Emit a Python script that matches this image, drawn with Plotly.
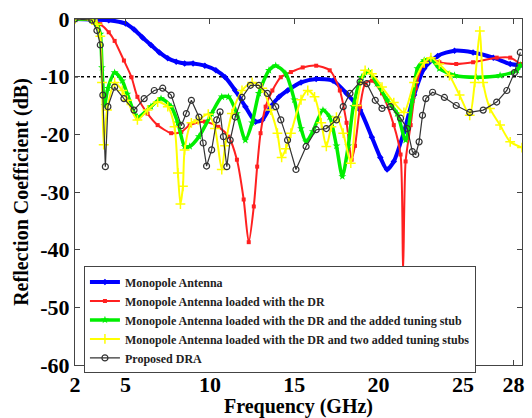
import plotly.graph_objects as go

# Frequency (GHz) / reflection coefficient (dB) samples for each design
mono_f = [2, 3, 4, 5, 5.5, 6, 6.5, 7, 7.5, 8, 8.5, 9, 9.7, 10.35, 10.9, 11.5, 12.1, 12.7, 13.1, 13.6,
          14.1, 14.6, 15.4, 16.3, 17.3, 18.1, 18.9, 19.6, 20.1, 20.5, 20.9, 21.5, 22.1, 22.7, 23.5,
          24.5, 25.6, 26.8, 27.8, 28.4]
mono_db = [0, -0.1, -0.2, -0.8, -1.8, -3.2, -4.5, -5.8, -6.8, -7.4, -7.7, -7.7, -8.1, -8.9, -10.1,
           -12.4, -15.2, -17.8, -17.5, -15.2, -13.5, -12.4, -11.0, -10.4, -10.7, -12.9, -15.8,
           -20.5, -24.0, -26.1, -24.7, -19.6, -13.2, -8.6, -6.4, -5.5, -5.8, -6.7, -7.8, -8.0]

dr_f = [2, 3, 3.5, 4, 4.35, 4.9, 5.35, 5.7, 6.3, 6.9, 7.7, 8.3, 8.8, 9.7, 10.5, 11.1, 11.6, 12.0,
        12.3, 12.6, 12.8, 13.0, 13.3, 13.7, 14.2, 14.8, 15.5, 16.3, 17.1, 17.7, 18.1, 18.4, 18.6,
        18.9, 19.2, 19.6, 20.2, 20.9, 21.3, 21.45, 21.6, 21.9, 22.2, 22.6, 23.1, 23.6, 24.6, 25.6,
        27.0, 27.8, 28.4]
dr_db = [0, -0.2, -0.9, -2.3, -3.8, -7.2, -10.1, -13.5, -16.4, -18.4, -19.8, -19.6, -18.4, -17.8,
         -18.7, -20.4, -24.4, -31.3, -38.7, -32.5, -25.6, -19.8, -15.2, -12.4, -10.1, -9.2, -8.4,
         -8.1, -8.9, -12.4, -18.0, -24.4, -22.0, -15.2, -11.2, -10.7, -12.9, -18.4, -23.5, -44.0,
         -24.7, -18.4, -12.0, -8.1, -6.9, -7.5, -7.8, -7.5, -6.7, -6.7, -7.8]

stub1_f = [2, 3, 3.3, 3.5, 3.6, 3.75, 3.95, 4.35, 4.8, 5.1, 5.7, 6.5, 7.1, 7.7, 8.1, 8.5, 8.8, 9.35,
           10.1, 10.7, 11.1, 11.6, 12.1, 12.5, 12.9, 13.5, 13.9, 14.5, 15.0, 15.4, 15.7, 16.1, 16.7,
           17.1, 17.5, 17.85, 18.2, 18.5, 19.0, 19.4, 19.9, 20.5, 21.1, 21.6, 22.0, 22.3, 22.7,
           23.1, 23.6, 24.5, 25.8, 27.2, 28.2, 28.4]
stub1_db = [0, -0.2, -0.9, -2.6, -8.4, -15.0, -12.0, -9.3, -10.7, -13.0, -17.0, -15.2, -13.8,
            -15.2, -18.0, -22.1, -22.1, -20.4, -16.4, -13.5, -13.5, -16.4, -21.0, -18.0, -12.9,
            -8.9, -8.1, -9.5, -14.0, -19.0, -21.3, -19.5, -15.8, -17.0, -22.0, -27.3, -22.0,
            -15.2, -10.1, -9.1, -11.2, -14.0, -16.4, -21.0, -14.0, -8.6, -7.2, -6.9, -8.6, -9.8,
            -10.1, -9.8, -8.9, -8.0]

stub2_f = [2, 3, 3.3, 3.5, 3.6, 3.7, 3.9, 4.35, 4.8, 5.1, 5.7, 6.3, 6.9, 7.5, 7.9, 8.1, 8.25, 8.4,
           8.5, 8.9, 9.3, 9.9, 10.3, 10.7, 10.9, 11.3, 11.9, 12.5, 13.1, 13.6, 14.0, 14.25, 14.5,
           14.8, 15.4, 15.8, 16.2, 16.6, 16.9, 17.2, 17.5, 17.9, 18.35, 18.7, 19.2, 19.6, 20.2,
           20.9, 21.5, 22.1, 22.7, 23.1, 23.6, 24.2, 24.8, 25.4, 25.7, 26.0, 26.2, 26.6, 27.2,
           27.8, 28.5]
stub2_db = [0, -0.2, -0.9, -3.0, -11.0, -21.8, -15.8, -11.0, -12.4, -14.1, -17.5, -15.8, -14.4,
            -15.2, -18.7, -26.7, -32.1, -29.0, -22.7, -18.0, -17.5, -16.5, -19.0, -26.1, -22.0,
            -16.4, -12.4, -11.0, -12.0, -15.8, -19.8, -24.0, -22.5, -19.8, -14.0, -12.4, -13.5,
            -18.0, -22.1, -18.7, -17.0, -19.8, -25.0, -15.0, -8.9, -9.5, -11.8, -14.5, -16.2,
            -11.0, -7.6, -6.7, -7.8, -9.8, -13.2, -16.7, -11.0, -2.1, -11.0, -15.5, -18.4, -21.3,
            -22.3]

dra_f = [2, 3, 3.3, 3.5, 3.65, 3.8, 3.95, 4.35, 4.9, 5.5, 6.1, 6.7, 7.2, 7.7, 8.3, 8.6, 8.9, 9.35,
         9.6, 9.8, 10.1, 10.4, 10.6, 10.8, 11.0, 11.2, 11.5, 11.9, 12.4, 12.9, 13.4, 13.9, 14.2,
         14.6, 15.1, 15.7, 16.3, 16.9, 17.5, 17.9, 18.3, 18.9, 19.3, 19.8, 20.2, 20.7, 21.3, 21.7,
         22.0, 22.2, 22.4, 22.6, 22.8, 23.2, 23.9, 24.6, 25.4, 26.2, 27.0, 27.6, 28.05, 28.4]
dra_db = [0, -0.2, -2.0, -4.5, -13.2, -25.6, -15.2, -11.8, -13.8, -15.8, -13.8, -12.4, -12.0,
          -13.2, -18.5, -16.4, -14.1, -17.0, -21.5, -25.5, -22.7, -17.5, -16.1, -20.4, -25.6,
          -21.0, -17.0, -13.6, -11.5, -11.5, -12.9, -15.2, -17.5, -21.0, -26.1, -22.1, -19.2,
          -19.0, -17.5, -15.2, -12.9, -10.9, -11.2, -14.1, -15.5, -15.2, -17.2, -19.0, -23.0,
          -23.5, -21.3, -16.7, -13.8, -12.7, -13.6, -15.0, -16.2, -15.8, -14.4, -12.4, -9.3, -5.8]

series_names = [
    "Monopole Antenna",
    "Monopole Antenna loaded with the DR",
    "Monopole Antenna loaded with the DR and the added tuning stub",
    "Monopole Antenna loaded with the DR and two added tuning stubs",
    "Proposed DRA",
]

x_ticks = [2, 5, 10, 15, 20, 25, 28]
y_ticks = [0, -10, -20, -30, -40, -50, -60]
y_ticklabels = ["0", "-10", "-20", "-30", "-40", "-50", "-60"]
threshold_db = -10

FONT = "Liberation Serif, Times New Roman, serif"

fig = go.Figure()

styles = [
    (mono_f, mono_db, dict(color="#0000ff", width=4), dict(symbol="diamond", size=5, color="#0000ff"), "spline"),
    (dr_f, dr_db, dict(color="#ff2020", width=2), dict(symbol="square", size=4, color="#ff2020"), "spline"),
    (stub1_f, stub1_db, dict(color="#00ee00", width=3.5), dict(symbol="star", size=6, color="#00ee00"), "spline"),
    (stub2_f, stub2_db, dict(color="#ffff00", width=2), dict(symbol="cross-thin-open", size=7, line=dict(color="#ffff00", width=1.5)), "spline"),
    (dra_f, dra_db, dict(color="#333333", width=1.2), dict(symbol="circle-open", size=6, line=dict(color="#333333", width=1.2)), "linear"),
]

for (f, db, line, marker, shape), name in zip(styles, series_names):
    line = dict(line, shape=shape)
    if shape == "spline":
        line["smoothing"] = 0.7
    fig.add_trace(go.Scatter(x=f, y=db, mode="lines+markers", name=name, line=line, marker=marker))

# -10 dB matching threshold
fig.add_shape(type="line", xref="paper", x0=0, x1=1, yref="y", y0=threshold_db, y1=threshold_db,
              line=dict(color="black", width=1.5, dash="dot"), layer="below")

axis_common = dict(
    showline=True, linecolor="#444444", linewidth=1, mirror="ticks",
    ticks="inside", ticklen=5, tickcolor="#444444", showgrid=False, zeroline=False,
    tickfont=dict(family=FONT, size=22, color="black", weight="bold"),
)
title_font = dict(family=FONT, size=20, color="black", weight="bold")

fig.update_layout(
    width=532, height=418,
    margin=dict(l=75, r=7, t=18, b=51),
    paper_bgcolor="white", plot_bgcolor="white",
    showlegend=True,
    legend=dict(
        x=0.02, y=0.285, xanchor="left", yanchor="top",
        bgcolor="white", bordercolor="#444444", borderwidth=1,
        font=dict(family=FONT, size=12, color="#222222", weight="bold"),
        tracegroupgap=0,
    ),
    xaxis=dict(axis_common, range=[2, 28.5], tickvals=x_ticks,
               title=dict(text="Frequency (GHz)", standoff=0, font=title_font)),
    yaxis=dict(axis_common, range=[-60, 0], tickvals=y_ticks, ticktext=y_ticklabels,
               title=dict(text="Reflection Coefficient (dB)", standoff=6, font=title_font)),
)

fig.write_html("out.html")
